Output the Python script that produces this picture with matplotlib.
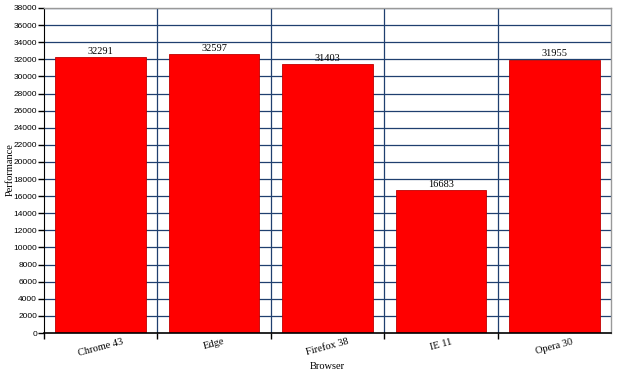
import matplotlib
matplotlib.use("Agg")
import matplotlib.pyplot as plt
import numpy as np

browsers = ["Chrome 43", "Edge", "Firefox 38", "IE 11", "Opera 30"]
performance = [32291, 32597, 31403, 16683, 31955]
yticks = list(range(0, 38001, 2000))

fig = plt.figure(figsize=(6.2, 3.76), dpi=100)
ax = fig.add_axes([44/620, 1-333/376, (611-44)/620, (333-8)/376])

x = np.arange(len(browsers))
ax.set_xlim(-0.5, len(browsers)-0.5)
ax.set_ylim(0, 38000)

gridc = "#1f3f6f"
for t in yticks[1:]:
    ax.axhline(t, color=gridc, lw=0.9, zorder=1)
for b in np.arange(0.5, len(browsers)-0.5, 1):
    ax.axvline(b, color=gridc, lw=0.9, zorder=1)

bars = ax.bar(x, performance, width=0.8, color="#ff0000", edgecolor="#c00000", lw=0.6, zorder=2)
for xi, v in zip(x, performance):
    ax.text(xi, v + 150, str(v), ha="center", va="bottom", fontsize=7.5,
            family="Liberation Serif", zorder=3)

ax.set_yticks(yticks)
ax.set_yticklabels([str(t) for t in yticks], fontsize=6, family="Liberation Sans")
ax.set_xticks(np.arange(-0.5, len(browsers)-0.5, 1))
ax.set_xticklabels([])
ax.set_xticks(x, minor=True)
ax.set_xticklabels(browsers, minor=True, rotation=15, fontsize=7.5, family="Liberation Serif")
ax.tick_params(axis="x", which="minor", length=0, pad=3)
ax.tick_params(axis="x", which="major", length=4, width=1)
ax.tick_params(axis="y", length=4, width=1, pad=1)

for s in ["top", "right"]:
    ax.spines[s].set_color("#999999")
    ax.spines[s].set_linewidth(1)
ax.spines["left"].set_color("black")
ax.spines["bottom"].set_color("black")
ax.spines["bottom"].set_linewidth(1.2)

ax.set_xlabel("Browser", fontsize=7.5, family="Liberation Serif", labelpad=3)
fig.text(10/620, 1-170/376, "Performance", rotation=90, ha="center", va="center",
         fontsize=7.5, family="Liberation Serif")

fig.savefig("out.png", dpi=100)
